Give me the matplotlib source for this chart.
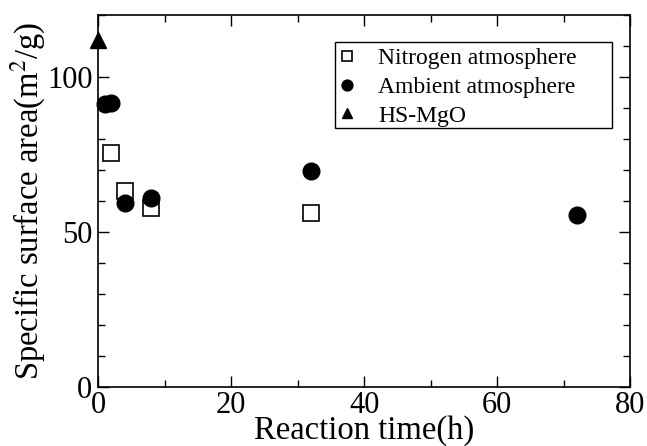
import matplotlib
matplotlib.use("Agg")
import matplotlib.pyplot as plt
from matplotlib.ticker import MultipleLocator
from matplotlib.patches import Rectangle

plt.rcParams['font.family'] = ['Liberation Serif', 'DejaVu Serif']
plt.rcParams['mathtext.fontset'] = 'stix'

nitrogen_x = [2, 4, 8, 32]
nitrogen_y = [75.6, 63.3, 57.9, 56.3]
ambient_x = [1, 2, 4, 8, 32, 72]
ambient_y = [91.3, 91.6, 59.5, 61.0, 69.8, 55.6]
hs_x = [0]
hs_y = [111.9]

fig = plt.figure(figsize=(6.47, 4.46), dpi=100)
ax = fig.add_axes([0.1515, 0.132, 0.8225, 0.834])

ax.plot(nitrogen_x, nitrogen_y, linestyle='none', marker='s', markersize=11,
        markerfacecolor='white', markeredgecolor='black', markeredgewidth=1.2,
        label='Nitrogen atmosphere', clip_on=False)
ax.plot(ambient_x, ambient_y, linestyle='none', marker='o', markersize=12,
        markerfacecolor='black', markeredgecolor='black',
        label='Ambient atmosphere', clip_on=False)
ax.plot(hs_x, hs_y, linestyle='none', marker='^', markersize=12,
        markerfacecolor='black', markeredgecolor='black',
        label='HS-MgO', clip_on=False)

ax.set_xlim(0, 80)
ax.set_ylim(0, 120)
ax.xaxis.set_major_locator(MultipleLocator(20))
ax.xaxis.set_minor_locator(MultipleLocator(10))
ax.yaxis.set_major_locator(MultipleLocator(50))
ax.yaxis.set_minor_locator(MultipleLocator(10))
ax.tick_params(which='both', direction='in', top=True, right=True, width=1.0,
               labelsize=22)
ax.tick_params(axis='x', which='both', pad=3)
ax.tick_params(axis='y', which='both', pad=4)
ax.tick_params(which='major', length=8)
ax.tick_params(which='minor', length=5)
for s in ax.spines.values():
    s.set_linewidth(1.2)

ax.set_xlabel('Reaction time(h)', fontsize=23.5, labelpad=-4)
ax.set_ylabel(r'Specific surface area(m$^2$/g)', fontsize=23.5, labelpad=-1)

leg = ax.legend(loc='upper left', bbox_to_anchor=(0.453, 0.912), fontsize=17,
                frameon=False, markerscale=0.65, handlelength=0.7,
                handletextpad=0.95, borderpad=0, labelspacing=0.3,
                borderaxespad=0)
ax.add_patch(Rectangle((0.4455, 0.696), 0.966 - 0.4455, 0.927 - 0.696,
                       transform=ax.transAxes, fill=False, edgecolor='black',
                       linewidth=1.0, zorder=5))

fig.savefig('out.png', dpi=100)
